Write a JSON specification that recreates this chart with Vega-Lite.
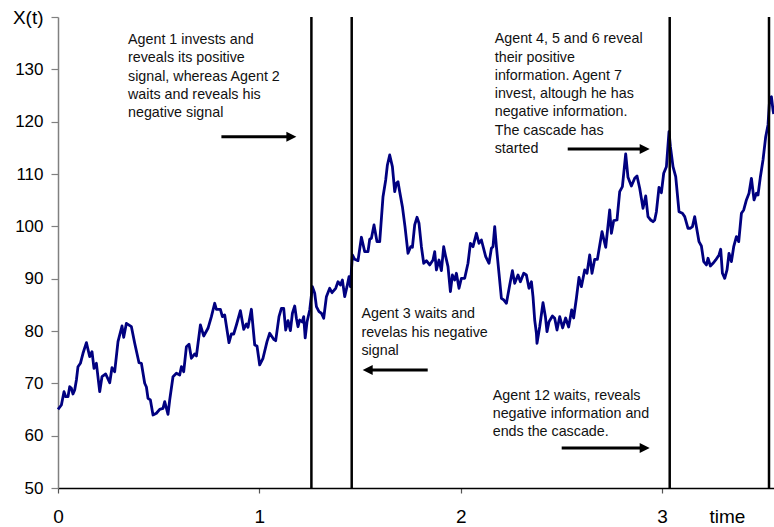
{
  "$schema": "https://vega.github.io/schema/vega-lite/v6.json",
  "autosize": {"type": "none"},
  "padding": {"left": 58, "top": 17, "right": 0, "bottom": 39},
  "width": 716,
  "height": 471,
  "background": "white",
  "config": {"view": {"stroke": null}, "font": "Liberation Sans"},
  "datasets": {
    "series": [
      {"t":0,"X":65.04},{"t":0.0169,"X":65.86},{"t":0.0298,"X":68.4},{"t":0.0382,"X":67.45},{"t":0.0497,"X":67.45},{"t":0.0581,"X":69.36},{"t":0.0666,"X":69.05},{"t":0.0745,"X":67.96},{"t":0.0829,"X":68.73},{"t":0.0914,"X":70.64},
      {"t":0.0993,"X":73.18},{"t":0.1113,"X":73.83},{"t":0.1242,"X":75.74},{"t":0.1411,"X":77.77},{"t":0.1575,"X":75.09},{"t":0.1689,"X":76.05},{"t":0.1788,"X":72.87},{"t":0.1907,"X":73.83},{"t":0.2071,"X":68.4},{"t":0.2185,"X":71.27},
      {"t":0.2369,"X":71.79},{"t":0.2568,"X":70.12},{"t":0.2682,"X":72.99},{"t":0.2816,"X":72.22},{"t":0.298,"X":77.96},{"t":0.3179,"X":80.96},{"t":0.3263,"X":78.8},{"t":0.3397,"X":81.47},{"t":0.3646,"X":80.82},{"t":0.381,"X":77.65},
      {"t":0.4023,"X":73.94},{"t":0.4142,"X":73.83},{"t":0.4306,"X":70.01},{"t":0.4391,"X":69.3},{"t":0.447,"X":67.14},{"t":0.4589,"X":66.82},{"t":0.4719,"X":63.95},{"t":0.4887,"X":64.28},{"t":0.5051,"X":65.04},{"t":0.5215,"X":65.23},
      {"t":0.53,"X":66.49},{"t":0.5464,"X":64.08},{"t":0.5548,"X":66.82},{"t":0.5712,"X":71.27},{"t":0.5881,"X":71.92},{"t":0.6045,"X":71.59},{"t":0.6129,"X":73.18},{"t":0.6244,"X":72.22},{"t":0.6378,"X":77.0},{"t":0.6507,"X":77.46},
      {"t":0.6626,"X":74.79},{"t":0.679,"X":75.61},{"t":0.6874,"X":75.23},{"t":0.7073,"X":81.15},{"t":0.7237,"X":79.05},{"t":0.745,"X":80.52},{"t":0.7619,"X":82.74},{"t":0.7783,"X":85.3},{"t":0.7868,"X":84.15},{"t":0.8066,"X":84.15},
      {"t":0.8166,"X":82.74},{"t":0.828,"X":83.06},{"t":0.8493,"X":77.77},{"t":0.8613,"X":79.43},{"t":0.8727,"X":79.43},{"t":0.8861,"X":81.15},{"t":0.906,"X":83.88},{"t":0.9224,"X":80.33},{"t":0.9358,"X":81.34},{"t":0.9437,"X":80.71},
      {"t":0.9606,"X":84.15},{"t":0.977,"X":77.33},{"t":0.9884,"X":77.14},{"t":1.0018,"X":73.51},{"t":1.0182,"X":74.79},{"t":1.0381,"X":77.96},{"t":1.0515,"X":79.56},{"t":1.0714,"X":78.42},{"t":1.0813,"X":78.15},{"t":1.0977,"X":82.74},
      {"t":1.1096,"X":84.34},{"t":1.121,"X":84.34},{"t":1.131,"X":80.19},{"t":1.1424,"X":81.97},{"t":1.1543,"X":80.06},{"t":1.1643,"X":83.39},{"t":1.1757,"X":84.78},{"t":1.1841,"X":82.43},{"t":1.1921,"X":80.82},{"t":1.2005,"X":82.1},
      {"t":1.2129,"X":81.72},{"t":1.2204,"X":82.74},{"t":1.2278,"X":78.67},{"t":1.2368,"X":81.72},{"t":1.2503,"X":84.02},{"t":1.2636,"X":88.47},{"t":1.275,"X":87.21},{"t":1.2835,"X":84.65},{"t":1.2964,"X":83.69},{"t":1.3083,"X":83.39},
      {"t":1.3197,"X":82.43},{"t":1.3331,"X":86.56},{"t":1.3495,"X":88.16},{"t":1.3609,"X":87.32},{"t":1.3793,"X":88.16},{"t":1.3907,"X":89.42},{"t":1.4027,"X":88.79},{"t":1.4126,"X":89.75},{"t":1.424,"X":86.56},{"t":1.4354,"X":88.47},
      {"t":1.4454,"X":90.38},{"t":1.4523,"X":88.47},{"t":1.4623,"X":94.53},{"t":1.4737,"X":93.7},{"t":1.4901,"X":93.44},{"t":1.507,"X":97.91},{"t":1.5234,"X":95.16},{"t":1.5398,"X":95.16},{"t":1.5482,"X":97.53},{"t":1.5567,"X":97.72},
      {"t":1.5696,"X":100.26},{"t":1.5845,"X":97.07},{"t":1.5979,"X":97.07},{"t":1.6143,"X":105.67},{"t":1.6277,"X":108.86},{"t":1.6361,"X":111.73},{"t":1.6475,"X":113.64},{"t":1.6609,"X":111.4},{"t":1.6724,"X":106.62},{"t":1.6808,"X":108.23},
      {"t":1.6888,"X":108.53},{"t":1.6972,"X":106.62},{"t":1.7106,"X":103.76},{"t":1.7235,"X":99.94},{"t":1.7384,"X":94.85},{"t":1.7518,"X":96.11},{"t":1.7603,"X":96.0},{"t":1.7717,"X":100.26},{"t":1.7831,"X":101.73},{"t":1.7931,"X":100.58},
      {"t":1.805,"X":96.11},{"t":1.8164,"X":92.94},{"t":1.8298,"X":93.44},{"t":1.8462,"X":92.62},{"t":1.8626,"X":93.57},{"t":1.871,"X":95.16},{"t":1.8795,"X":91.66},{"t":1.8924,"X":93.57},{"t":1.9043,"X":91.53},{"t":1.9157,"X":96.11},
      {"t":1.9257,"X":94.2},{"t":1.9371,"X":92.29},{"t":1.949,"X":87.51},{"t":1.959,"X":90.7},{"t":1.9704,"X":89.75},{"t":1.9788,"X":91.03},{"t":1.9918,"X":88.16},{"t":2.0036,"X":90.07},{"t":2.02,"X":90.07},{"t":2.0364,"X":92.94},
      {"t":2.0484,"X":96.76},{"t":2.0613,"X":96.11},{"t":2.0782,"X":98.67},{"t":2.0911,"X":96.76},{"t":2.103,"X":97.39},{"t":2.1244,"X":94.2},{"t":2.1408,"X":92.94},{"t":2.1527,"X":95.81},{"t":2.1606,"X":96.11},{"t":2.1691,"X":99.94},
      {"t":2.1775,"X":96.11},{"t":2.1904,"X":91.03},{"t":2.2024,"X":86.25},{"t":2.2138,"X":85.93},{"t":2.2272,"X":85.3},{"t":2.2436,"X":88.79},{"t":2.257,"X":91.53},{"t":2.2684,"X":89.12},{"t":2.2848,"X":90.7},{"t":2.2967,"X":89.42},
      {"t":2.3131,"X":91.03},{"t":2.3265,"X":90.7},{"t":2.3394,"X":88.16},{"t":2.3514,"X":89.42},{"t":2.3593,"X":86.56},{"t":2.3677,"X":82.1},{"t":2.3762,"X":79.56},{"t":2.3791,"X":77.65},{"t":2.3926,"X":80.82},{"t":2.409,"X":85.41},
      {"t":2.4209,"X":82.74},{"t":2.4288,"X":79.87},{"t":2.4388,"X":81.78},{"t":2.4557,"X":82.87},{"t":2.4671,"X":82.43},{"t":2.4785,"X":80.19},{"t":2.4919,"X":82.74},{"t":2.5065,"X":80.58},{"t":2.5214,"X":82.49},{"t":2.5363,"X":80.77},
      {"t":2.5512,"X":84.02},{"t":2.5611,"X":82.49},{"t":2.5748,"X":86.25},{"t":2.5877,"X":90.26},{"t":2.5996,"X":88.47},{"t":2.616,"X":91.66},{"t":2.6275,"X":91.03},{"t":2.6409,"X":94.53},{"t":2.6523,"X":91.03},{"t":2.6657,"X":93.7},
      {"t":2.6791,"X":93.7},{"t":2.702,"X":98.98},{"t":2.7204,"X":96.0},{"t":2.7402,"X":103.13},{"t":2.7487,"X":98.67},{"t":2.7601,"X":101.08},{"t":2.7765,"X":101.21},{"t":2.7899,"X":106.62},{"t":2.8033,"X":107.58},{"t":2.8197,"X":113.83},
      {"t":2.8311,"X":109.37},{"t":2.848,"X":107.71},{"t":2.8644,"X":109.18},{"t":2.8759,"X":109.62},{"t":2.8893,"X":107.27},{"t":2.9057,"X":103.45},{"t":2.9191,"X":105.8},{"t":2.9305,"X":101.85},{"t":2.9439,"X":101.21},{"t":2.9553,"X":100.89},
      {"t":2.9638,"X":101.21},{"t":2.9722,"X":102.8},{"t":2.9851,"X":107.46},{"t":2.997,"X":106.43},{"t":3.0085,"X":110.14},{"t":3.0219,"X":111.4},{"t":3.0348,"X":118.09},{"t":3.0418,"X":115.22},{"t":3.0547,"X":111.4},{"t":3.0681,"X":109.49},
      {"t":3.0845,"X":102.8},{"t":3.1014,"X":102.5},{"t":3.1128,"X":101.85},{"t":3.1292,"X":99.63},{"t":3.1411,"X":99.63},{"t":3.1511,"X":99.94},{"t":3.1625,"X":101.85},{"t":3.1709,"X":99.94},{"t":3.1838,"X":97.07},{"t":3.1957,"X":96.25},
      {"t":3.2072,"X":93.25},{"t":3.2206,"X":92.62},{"t":3.2285,"X":93.9},{"t":3.2404,"X":92.42},{"t":3.2533,"X":92.94},{"t":3.2668,"X":93.57},{"t":3.2832,"X":94.53},{"t":3.2916,"X":95.62},{"t":3.3001,"X":91.03},{"t":3.3115,"X":90.07},
      {"t":3.3229,"X":91.66},{"t":3.3329,"X":94.85},{"t":3.3448,"X":93.25},{"t":3.3562,"X":96.11},{"t":3.3696,"X":98.02},{"t":3.3811,"X":97.07},{"t":3.3945,"X":102.5},{"t":3.4059,"X":103.13},{"t":3.4193,"X":105.04},{"t":3.4322,"X":106.32},
      {"t":3.4441,"X":109.18},{"t":3.4571,"X":105.04},{"t":3.469,"X":106.32},{"t":3.4769,"X":105.99},{"t":3.4888,"X":109.49},{"t":3.5017,"X":112.68},{"t":3.5151,"X":117.13},{"t":3.5265,"X":119.37},{"t":3.535,"X":124.47},{"t":3.5434,"X":124.78},
      {"t":3.5513,"X":122.24},{"t":3.5548,"X":121.47}
    ],
    "vlines": [{"t": 1.2586}, {"t": 1.4588}, {"t": 3.0383}, {"t": 3.5315}],
    "arrows": [
      {"t": 0.8116, "t2": 1.1593, "X": 117.13, "dir": "right"},
      {"t": 1.8363, "t2": 1.5383, "X": 72.55, "dir": "left"},
      {"t": 2.5317, "t2": 2.9141, "X": 114.78, "dir": "right"},
      {"t": 2.5018, "t2": 2.9141, "X": 57.64, "dir": "right"}
    ],
    "notes": [
      {"t": 0.3477, "X": 136.95, "label": "Agent 1 invests and\nreveals its positive\nsignal, whereas Agent 2\nwaits and reveals his\nnegative signal"},
      {"t": 2.1691, "X": 137.08, "label": "Agent 4, 5 and 6 reveal\ntheir positive\ninformation. Agent 7\ninvest, altough he has\nnegative information.\nThe cascade has\nstarted"},
      {"t": 1.507, "X": 84.53, "label": "Agent 3 waits and\nrevelas his negative\nsignal"},
      {"t": 2.1591, "X": 69.01, "label": "Agent 12 waits, reveals\nnegative information and\nends the cascade."}
    ]
  },
  "layer": [
    {
      "data": {"name": "series"},
      "mark": {"type": "line", "color": "#000080", "strokeWidth": 2.8, "strokeJoin": "round"},
      "encoding": {
        "x": {
          "field": "t", "type": "quantitative",
          "scale": {"domain": [0, 3.5563], "nice": false, "zero": false},
          "axis": {
            "values": [0, 1, 2, 3], "grid": false, "format": "d",
            "domainColor": "#000000", "domainWidth": 1.5,
            "tickColor": "#555555", "tickSize": 5, "tickWidth": 1.2,
            "labelFont": "Liberation Sans", "labelFontSize": 19, "labelColor": "#000000", "labelPadding": 14,
            "labelOverlap": false, "labelFlush": false,
            "title": "time", "titleFont": "Liberation Sans", "titleFontSize": 19, "titleFontWeight": "normal", "titleColor": "#000000",
            "titleX": 669, "titleY": 34, "titleAlign": "center", "titleBaseline": "alphabetic"
          }
        },
        "y": {
          "field": "X", "type": "quantitative",
          "scale": {"domain": [50, 140], "nice": false, "zero": false},
          "axis": {
            "values": [50, 60, 70, 80, 90, 100, 110, 120, 130, 140], "grid": false,
            "labelExpr": "datum.value == 140 ? 'X(t)' : datum.label",
            "domainColor": "#808080", "domainWidth": 1.5,
            "tickColor": "#808080", "tickSize": 7, "tickWidth": 1.2,
            "labelFont": "Liberation Sans", "labelFontSize": {"condition": {"test": "datum.value == 140", "value": 19}, "value": 17},
            "labelColor": "#000000", "labelPadding": 8,
            "labelOverlap": false, "labelFlush": false,
            "title": null
          }
        }
      }
    },
    {
      "data": {"name": "vlines"},
      "mark": {"type": "rule", "color": "#000000", "strokeWidth": 2.5},
      "encoding": {"x": {"field": "t", "type": "quantitative"}}
    },
    {
      "data": {"name": "arrows"},
      "mark": {"type": "rule", "color": "#000000", "strokeWidth": 3},
      "encoding": {
        "x": {"field": "t", "type": "quantitative"},
        "x2": {"field": "t2"},
        "y": {"field": "X", "type": "quantitative"}
      }
    },
    {
      "data": {"name": "arrows"},
      "mark": {"type": "point", "filled": true, "color": "#000000", "opacity": 1, "size": 100, "strokeWidth": 0},
      "encoding": {
        "x": {"field": "t2", "type": "quantitative"},
        "y": {"field": "X", "type": "quantitative"},
        "shape": {
          "field": "dir", "type": "nominal", "legend": null,
          "scale": {"domain": ["right", "left"], "range": ["M-1,-1L1,0L-1,1Z", "M1,-1L-1,0L1,1Z"]}
        }
      }
    },
    {
      "data": {"name": "notes"},
      "mark": {"type": "text", "align": "left", "baseline": "top", "font": "Liberation Sans", "fontSize": 14.3, "lineHeight": 18.3, "lineBreak": "\n", "color": "#111111"},
      "encoding": {
        "x": {"field": "t", "type": "quantitative"},
        "y": {"field": "X", "type": "quantitative"},
        "text": {"field": "label", "type": "nominal"}
      }
    }
  ]
}
